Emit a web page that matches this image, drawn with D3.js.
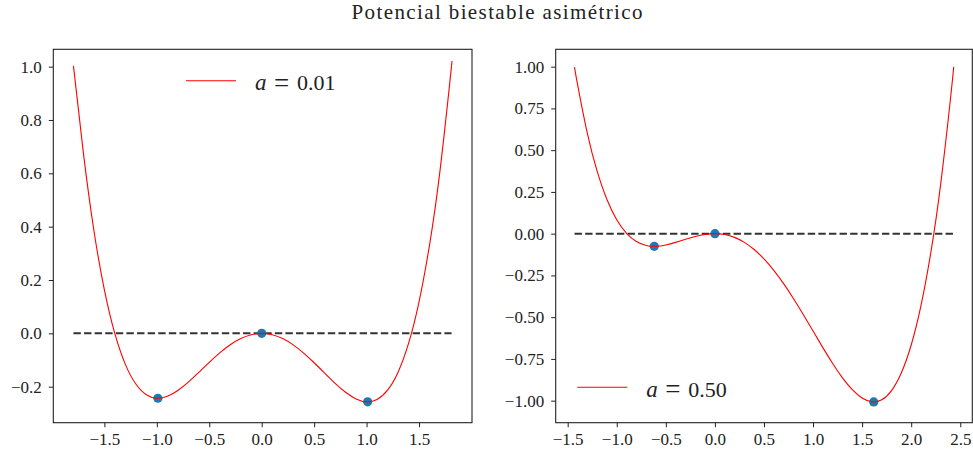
<!DOCTYPE html>
<html><head><meta charset="utf-8">
<script src="https://cdn.jsdelivr.net/npm/d3@7"></script>
<style>
html,body{margin:0;padding:0;background:#fff;}
svg{display:block;}
</style></head>
<body>
<svg id="chart" width="973" height="457"></svg>
<script>
// ---------- data ----------
const title = "Potencial biestable asimétrico";
const aLabels = ["0.01", "0.50"];

// a = 0.01
const xLeft = [-1.795,-1.7,-1.6,-1.5,-1.4,-1.3,-1.2,-1.1,-1.0,-0.9,-0.8,-0.7,-0.6,-0.5,-0.4,-0.3,-0.2,-0.1,0,
  0.1,0.2,0.3,0.4,0.5,0.6,0.7,0.8,0.9,1.0,1.1,1.2,1.3,1.4,1.5,1.6,1.7,1.8,1.81];
const yLeft = [1.0030,0.6758,0.3857,0.1631,-0.0013,-0.1163,-0.1901,-0.2301,-0.2433,-0.2361,-0.2142,-0.1827,-0.1462,-0.1085,-0.0732,-0.0428,-0.0195,-0.0050,0,
  -0.0050,-0.0197,-0.0432,-0.0740,-0.1102,-0.1490,-0.1873,-0.2210,-0.2458,-0.2567,-0.2478,-0.2131,-0.1456,-0.0379,0.1181,0.3311,0.6103,0.9655,1.0056];
const critXLeft = [-0.99, 0, 1.01];
const critYLeft = [-0.2434, 0, -0.2568];

// a = 0.50
const xRight = [-1.43,-1.4,-1.3,-1.2,-1.1,-1.0,-0.9,-0.8,-0.7,-0.6,-0.5,-0.4,-0.3,-0.2,-0.1,0,
  0.1,0.2,0.3,0.4,0.5,0.6,0.7,0.8,0.9,1.0,1.1,1.2,1.3,1.4,1.5,1.6,1.7,1.8,1.9,2.0,2.1,2.2,2.3,2.4,2.433];
const yRight = [0.9977,0.8951,0.6014,0.3744,0.2047,0.0833,0.0020,-0.0469,-0.0706,-0.0756,-0.0677,-0.0523,-0.0340,-0.0169,-0.0046,0,
  -0.0053,-0.0223,-0.0520,-0.0949,-0.1510,-0.2196,-0.2993,-0.3883,-0.4840,-0.5833,-0.6826,-0.7776,-0.8633,-0.9343,-0.9844,-1.0069,-0.9946,-0.9396,-0.8333,-0.6667,-0.4300,-0.1129,0.2954,0.8064,0.9996];
const critXRight = [-0.618, 0, 1.618];
const critYRight = [-0.0758, 0, -1.0075];

const xTicksLeft = [-1.5,-1.0,-0.5,0.0,0.5,1.0,1.5];
const yTicksLeft = [-0.2,0.0,0.2,0.4,0.6,0.8,1.0];
const xTicksRight = [-1.5,-1.0,-0.5,0.0,0.5,1.0,1.5,2.0,2.5];
const yTicksRight = [-1.00,-0.75,-0.50,-0.25,0.00,0.25,0.50,0.75,1.00];

// ---------- drawing ----------
const SERIF = "'Liberation Serif', 'DejaVu Serif', serif";
const svg = d3.select("#chart");
const fmt = d => (d < 0 ? "\u2212" : "") + d3.format(".1f")(Math.abs(d));
const fmt2 = d => (d < 0 ? "\u2212" : "") + d3.format(".2f")(Math.abs(d));

const panels = [
  {xs: xLeft, ys: yLeft, cx: critXLeft, cy: critYLeft, xt: xTicksLeft, yt: yTicksLeft, yf: fmt,
   left: 53.3, right: 472, xDom: [-1.987, 2.005], yDom: [-0.335, 1.065],
   label: aLabels[0], legX: 186, legY: 80.7},
  {xs: xRight, ys: yRight, cx: critXRight, cy: critYRight, xt: xTicksRight, yt: yTicksRight, yf: fmt2,
   left: 555.7, right: 972.3, xDom: [-1.622, 2.6225], yDom: [-1.132, 1.104],
   label: aLabels[1], legX: 577.3, legY: 387.3}
];
const plotTop = 49.3, plotBottom = 422.7;

panels.forEach(p => {
  const x = d3.scaleLinear().domain(p.xDom).range([p.left, p.right]);
  const y = d3.scaleLinear().domain(p.yDom).range([plotBottom, plotTop]);
  const g = svg.append("g");

  // dashed zero line over data x range
  const xmin = d3.min(p.xs), xmax = d3.max(p.xs);
  g.append("line")
    .attr("x1", x(xmin)).attr("x2", x(xmax))
    .attr("y1", y(0)).attr("y2", y(0))
    .attr("stroke", "#333").attr("stroke-width", 2)
    .attr("stroke-dasharray", "7.4,3.2");

  // critical points
  g.selectAll("circle.crit").data(p.cx.map((v, i) => [v, p.cy[i]]))
    .enter().append("circle")
    .attr("cx", d => x(d[0])).attr("cy", d => y(d[1]))
    .attr("r", 4.6).attr("fill", "#1f77b4");

  // curve
  const line = d3.line().x(d => x(d[0])).y(d => y(d[1])).curve(d3.curveNatural);
  g.append("path").datum(p.xs.map((v, i) => [v, p.ys[i]]))
    .attr("d", line).attr("fill", "none")
    .attr("stroke", "#ff0000").attr("stroke-width", 1.1);

  // axes
  const ax = g.append("g").attr("transform", `translate(0,${plotBottom})`)
    .call(d3.axisBottom(x).tickValues(p.xt).tickFormat(fmt).tickSize(4.5).tickPadding(5.7));
  const ay = g.append("g").attr("transform", `translate(${p.left},0)`)
    .call(d3.axisLeft(y).tickValues(p.yt).tickFormat(p.yf).tickSize(4.5).tickPadding(7));
  [ax, ay].forEach(a => {
    a.attr("font-family", null).attr("font-size", null);
    a.select(".domain").remove();
    a.selectAll("line").attr("stroke", "#222").attr("stroke-width", 1);
    a.selectAll("text").style("font-family", SERIF).style("font-size", "17px").attr("fill", "#222");
  });

  // frame
  g.append("rect").attr("x", p.left).attr("y", plotTop)
    .attr("width", p.right - p.left).attr("height", plotBottom - plotTop)
    .attr("fill", "none").attr("stroke", "#222").attr("stroke-width", 1.1);

  // legend
  g.append("line").attr("x1", p.legX).attr("x2", p.legX + 50)
    .attr("y1", p.legY).attr("y2", p.legY)
    .attr("stroke", "#ff0000").attr("stroke-width", 1.1);
  const tx = p.legX + 69, ty = p.legY + 9.3;
  const legText = (dx, dy, s, italic, size) => g.append("text").attr("x", tx + dx).attr("y", ty + dy)
    .style("font-family", SERIF).style("font-size", size + "px")
    .style("font-style", italic ? "italic" : "normal").attr("fill", "#222").text(s);
  legText(0, 0, "a", true, 23);
  legText(19, 1.5, "=", false, 27);
  legText(42, 0, p.label, false, 22);
});

// title
svg.append("text").attr("x", 497).attr("y", 19).attr("text-anchor", "middle")
  .style("font-family", SERIF).style("font-size", "21px").attr("fill", "#222")
  .attr("textLength", 291).attr("lengthAdjust", "spacing").text(title);
</script>
</body></html>
